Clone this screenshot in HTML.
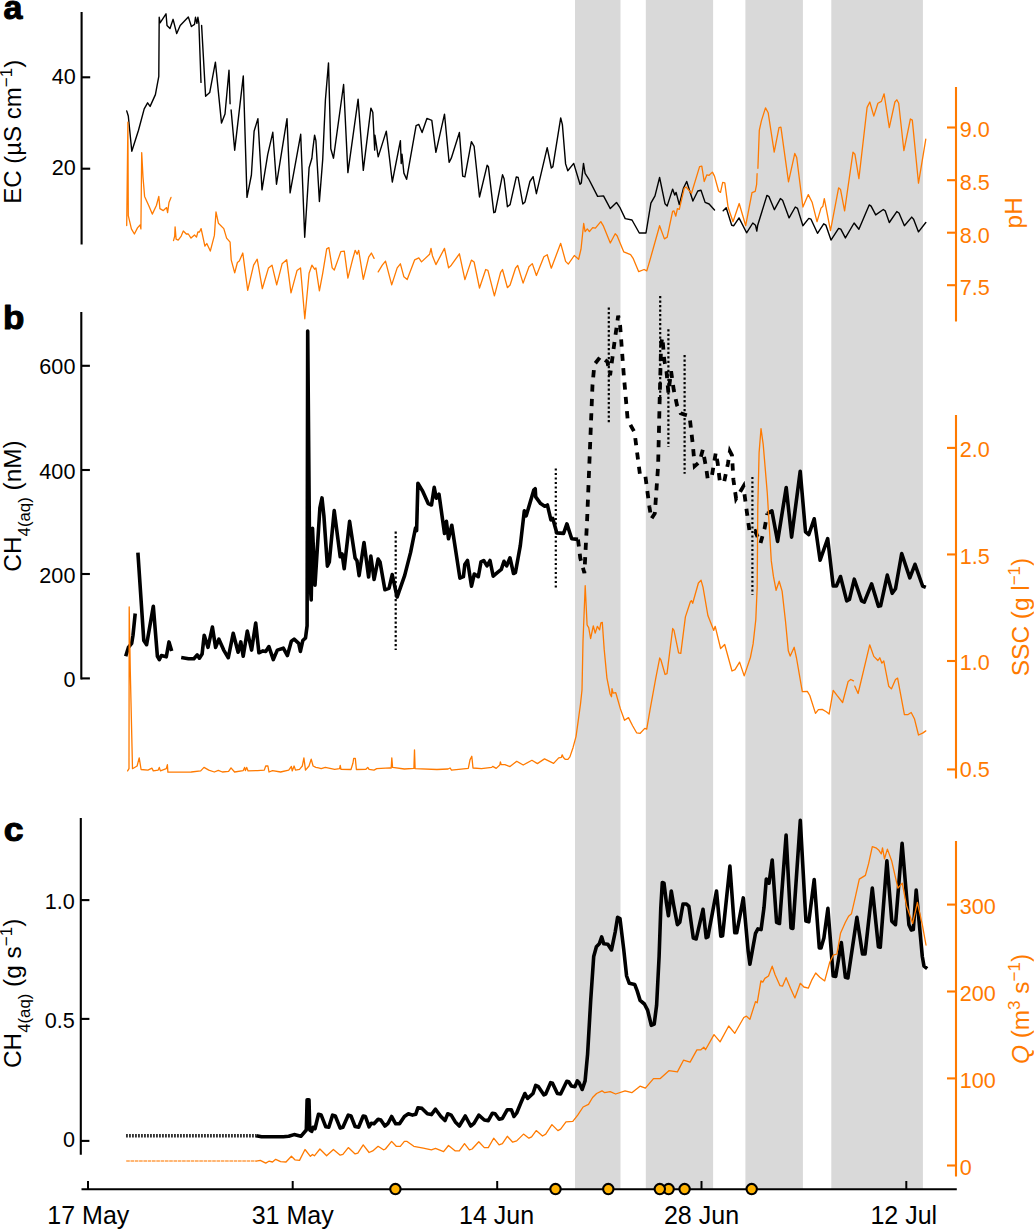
<!DOCTYPE html>
<html><head><meta charset="utf-8"><title>Figure</title>
<style>html,body{margin:0;padding:0;background:#fff;}body{width:1034px;height:1229px;overflow:hidden;}svg{display:block;}text{font-family:"Liberation Sans",sans-serif;}</style>
</head><body>
<svg width="1034" height="1229" viewBox="0 0 1034 1229">
<rect width="1034" height="1229" fill="#fff"/>
<rect x="575" y="0" width="45.5" height="1189" fill="#D9D9D9"/>
<rect x="645.8" y="0" width="67.3" height="1189" fill="#D9D9D9"/>
<rect x="745.4" y="0" width="57.5" height="1189" fill="#D9D9D9"/>
<rect x="831.3" y="0" width="91.6" height="1189" fill="#D9D9D9"/>
<g fill="none" stroke="#000" stroke-width="1.4" stroke-linejoin="round" stroke-linecap="round">
<polyline points="126.7,110.9 128.3,116.0 131.8,151.2 138.5,130.2 144.2,108.9 147.6,102.8 150.1,106.4 155.4,94.6 158.8,76.3 159.2,17.3 160.1,22.8 166.0,13.8 167.0,25.4 170.0,28.5 173.1,19.3 176.7,33.6 180.2,25.4 188.3,16.9 191.4,26.5 194.5,24.4 195.5,17.3 196.9,23.4 197.9,17.3 198.9,23.4 201.0,82.4"/>
<polyline points="201.6,25.4 205.6,96.3 209.7,92.6 215.4,62.1 221.5,123.1 225.0,114.0 229.0,70.2 230.1,103.8"/>
<polyline points="231.1,109.9 234.7,150.2 243.3,75.9 247.0,197.4 251.4,175.0 254.1,131.3 257.9,118.6 262.0,189.9 267.7,154.7 272.8,132.3 276.5,184.2 287.0,118.6 290.1,192.9 300.7,134.3 304.7,237.3 309.1,167.7 311.9,158.2 312.7,150.1 314.6,135.2 315.9,140.6 319.4,201.5 322.7,159.6 325.4,100.0 328.5,62.9 330.8,148.7 333.5,158.2 343.6,84.5 347.9,172.6 358.1,99.1 363.3,170.4 370.9,108.1 372.8,112.2 374.7,150.1 374.9,135.2 378.2,156.9 386.3,131.1 392.3,182.0 400.4,140.6 401.2,163.6 402.0,154.2 403.9,173.1 406.6,179.3 416.1,125.7 418.8,124.4 422.1,132.5 426.9,118.4 431.8,120.3 435.9,152.3 444.5,114.1 449.1,162.3 451.3,158.2 459.4,132.5 462.7,176.1 464.9,176.9 471.4,141.7 474.1,146.3 479.5,197.0 487.1,165.3 488.4,166.7 493.8,212.7 495.2,212.1 502.5,174.8 504.1,178.8 507.4,206.7 510.1,204.6 516.3,176.9 518.2,177.5 522.8,204.0 525.0,201.9 529.9,181.5 533.1,176.7 536.4,193.7 547.2,147.7 551.3,168.0 552.9,166.6 560.7,117.9 562.4,124.7 565.6,163.9 567.8,170.7 573.7,163.4 580.0,184.3 581.3,182.9 583.5,163.4 585.1,173.4 588.6,178.8 597.6,196.4 603.5,195.9 610.3,208.6 616.5,202.4 619.8,207.3 625.2,218.6 632.0,220.0 639.3,233.0 646.0,233.0 650.9,203.2 655.0,195.9 659.6,177.5 665.0,203.7 667.2,205.9 672.6,189.1 674.7,195.1 676.1,192.4 679.3,204.6 683.4,188.3 686.7,181.5 692.9,201.0 697.8,191.0 701.0,190.2 705.1,202.4 709.1,204.0 714.5,210.0"/>
<polyline points="723.2,210.8 726.2,207.8 731.7,225.2 733.8,225.7 739.0,217.9 746.6,232.8 752.8,223.0 755.5,225.2 756.8,231.1 757.7,225.2 766.9,195.4 769.0,196.7 774.4,209.7 780.4,198.6 782.6,200.3 789.1,217.9 795.3,207.0 797.5,208.4 802.9,225.7 808.8,218.4 811.0,219.2 817.5,233.3 823.7,223.8 825.9,225.2 831.0,240.1 838.6,228.4 840.8,229.2 845.4,237.9 854.1,223.0 858.9,229.2 869.2,204.9 871.1,206.2 875.7,214.9 883.3,209.5 885.2,210.8 889.3,222.5 896.8,211.6 899.0,213.0 904.4,225.7 911.7,217.1 913.6,219.2 918.5,231.9 925.8,222.5"/>
</g>
<g fill="none" stroke="#000" stroke-width="3.6" stroke-linejoin="round">
<polyline points="125.7,656.3 128.4,647.4 131.7,643.3 133.0,635.2 135.2,613.5"/>
<polyline points="137.9,552.6 143.8,640.6 146.6,644.7 153.3,606.2 157.4,656.3 159.3,659.6 161.4,655.5 166.3,656.8 169.0,641.9 171.7,650.9"/>
<polyline points="181.2,657.4 188.5,658.7 193.9,658.7 197.2,654.9 199.4,658.2 202.1,654.1 204.2,635.2 208.0,647.4 212.4,627.1 215.6,647.4 218.9,639.2 223.7,650.1 228.3,657.7 233.2,633.3 238.1,652.2 240.8,641.9 243.2,656.3 247.3,631.1 251.6,650.1 255.7,623.0 258.9,652.8 263.0,650.9 265.7,651.4 268.9,646.6 273.3,659.6 277.3,650.1 283.3,648.2 287.4,655.5 291.4,641.1 294.1,639.2 298.7,643.3 300.4,651.4 302.8,640.6 305.5,637.9 307.1,625.7 307.7,331.0 309.8,578.3 311.2,600.0 312.5,528.2 315.0,585.1 319.9,507.9 322.0,497.9 323.9,516.0 327.4,566.1 329.3,562.1 334.2,510.6 340.2,556.7 342.1,553.9 344.2,568.8 349.6,521.4 355.1,558.0 357.0,560.7 359.1,575.6 364.0,542.6 368.6,577.0 370.8,556.1 374.1,579.5 378.1,559.1 380.0,561.9 384.9,589.7 389.0,588.4 392.2,574.6 397.1,597.1 404.7,575.4 410.6,552.4 415.5,528.0 416.6,530.7 417.9,483.3 422.8,491.4 428.2,503.6 431.5,505.0 434.2,487.4 436.3,498.2 439.0,494.2 444.5,533.4 446.4,521.2 448.5,538.8 451.8,525.3 459.9,578.1 463.4,576.7 464.8,564.6 467.5,560.5 471.5,586.2 474.3,574.0 478.3,576.7 481.0,561.9 483.7,560.5 487.0,565.9 490.0,560.5 493.2,576.2 497.3,572.7 501.3,569.4 504.0,561.3 506.7,565.9 510.0,557.8 513.5,573.5 515.4,572.7 520.3,545.6 524.3,510.9 526.2,515.8 533.8,490.1 535.2,488.7 535.7,496.9 540.6,503.6 544.7,506.3 547.4,505.0 550.9,519.9 552.8,518.5 556.8,532.9 563.6,533.4 566.9,523.9 571.7,538.8 578.0,539.4"/>
<polyline points="767.3,513.5 771.9,510.8 777.6,541.5 786.2,487.5 791.6,537.1 800.2,471.2 805.5,531.8 808.8,534.5 814.2,518.8 820.1,560.2 827.7,538.6 833.2,586.0 836.4,586.0 840.5,576.5 846.7,600.9 849.4,599.5 854.3,579.2 861.6,600.9 864.3,602.2 871.6,583.8 878.4,606.3 880.6,605.8 887.3,575.1 892.2,593.3 895.5,588.7 901.7,553.5 909.8,577.9 915.0,564.3 922.6,586.0 925.8,587.3"/>
<polyline points="256.2,1135.7 261.6,1136.8 283.3,1136.8 288.7,1136.3 294.1,1134.6 300.9,1136.3 306.3,1130.0 307.1,1099.7 309.0,1099.7 309.8,1130.0 311.7,1131.4 313.1,1127.3 315.0,1128.7 318.5,1114.3 321.2,1115.1 325.8,1126.8 328.8,1127.3 332.6,1115.1 335.3,1116.0 340.2,1128.1 342.9,1127.3 348.3,1115.1 351.0,1116.0 355.1,1126.5 358.6,1127.3 363.2,1116.0 365.4,1116.5 369.1,1126.8 371.3,1123.3 374.0,1123.8 378.1,1119.2 380.8,1120.0 384.9,1126.0 388.1,1123.3 391.6,1116.5 395.7,1123.8 399.5,1123.8 404.4,1116.5 408.4,1113.8 412.5,1115.1 415.7,1114.3 417.9,1107.8 422.0,1108.4 427.4,1113.8 431.4,1114.6 435.5,1109.2 440.9,1116.5 445.0,1120.6 447.7,1113.8 451.2,1115.1 455.3,1121.9 459.3,1126.0 465.3,1116.0 470.7,1126.0 474.0,1123.3 478.8,1115.1 484.3,1120.0 488.3,1120.6 492.4,1113.2 495.1,1113.8 499.1,1119.2 502.4,1118.4 507.3,1109.7 511.3,1109.7 514.0,1116.5 516.7,1113.0 520.8,1103.0 524.9,1093.5 527.6,1098.4 533.0,1093.5 535.7,1085.4 538.4,1086.7 543.8,1094.8 545.7,1094.0 550.6,1082.6 552.5,1083.2 557.4,1093.5 560.6,1094.0 566.8,1081.3 568.7,1081.8 571.4,1085.9 575.0,1086.7 577.3,1080.9 579.0,1082.5 582.2,1089.5 585.1,1080.9 587.6,1054.1 590.7,1000.4 593.7,956.5 596.4,946.7 599.3,943.8 601.7,936.9 603.7,943.8 607.8,944.2 611.5,949.9 615.2,932.0 617.6,917.4 620.0,918.6 623.7,949.1 626.6,976.0 629.3,983.3 634.7,984.5 637.1,990.6 640.1,1000.4 644.4,1004.0 647.6,1010.1 651.3,1025.3 654.2,1024.1 656.6,1005.3 659.1,956.5 660.8,907.6 662.3,882.5 664.0,883.2 666.4,902.8 668.4,915.7 671.3,891.0 673.7,905.2 677.4,924.7 679.8,922.3 683.0,904.0 686.4,904.0 688.9,906.4 693.3,938.1 696.2,938.9 703.0,909.3 706.2,937.7 707.9,936.9 716.5,891.0 720.8,936.2 722.6,935.7 729.9,866.1 734.8,932.8 736.7,932.8 743.3,897.9 748.2,951.6 749.9,964.3 755.5,933.3 757.9,928.9 761.1,929.6 764.0,907.6 766.3,879.1 769.0,883.2 772.2,860.0 776.6,922.3 779.5,923.5 786.1,835.1 791.0,927.9 792.9,928.4 800.3,820.3 805.9,921.1 808.8,921.8 814.2,879.6 819.3,947.9 821.0,947.9 823.9,938.1 827.9,908.4 833.2,976.0 835.7,976.5 841.3,942.5 845.4,977.2 847.9,977.9 856.9,917.4 862.5,954.0 865.0,954.0 872.3,888.1 878.4,946.7 880.3,947.2 886.9,860.8 891.8,921.1 895.5,924.7 902.1,843.4 908.9,924.7 911.3,930.1 913.3,929.6 916.2,890.1 922.3,956.5 924.0,966.2 927.2,968.7"/>
<polyline points="578.0,539.4 580.3,558.2 584.4,573.1 587.1,520.3 589.8,452.6 592.5,384.8 594.4,364.5 600.6,356.4 607.4,361.8 610.1,375.3 614.2,344.2 618.2,315.7 620.1,325.2 623.7,374.0 627.7,420.0 634.5,432.2 639.9,474.2 645.3,475.6 649.4,506.7 651.3,518.9 654.8,513.5 658.1,466.1 659.7,398.4 661.1,344.2 662.4,337.4 664.3,360.4 666.5,371.3 668.4,392.9 671.1,371.3 673.8,390.2 677.0,405.1 680.6,413.3 684.6,414.6 689.5,416.0 692.8,444.4 694.7,466.1 699.5,462.0 702.8,449.8 706.3,468.8 707.7,478.8 711.7,476.9 715.8,452.6 717.7,463.4 719.8,481.0 723.9,482.9 728.0,463.4 729.9,451.2 732.0,455.3 733.4,479.7 736.1,498.6 740.2,491.8 743.4,486.4 746.9,512.2 749.7,532.5 755.1,531.1 760.5,543.3 764.6,528.4 767.3,513.5" stroke-dasharray="7.2 7.2" stroke-width="3.8" stroke-linejoin="miter"/>
</g>
<line x1="126.2" y1="1135.7" x2="256.2" y2="1135.7" stroke="#000" stroke-width="3.4" stroke-dasharray="1.5 1.5"/>
<g stroke="#000" stroke-width="2.2" stroke-dasharray="2.2 2.3">
<line x1="395.7" y1="531.5" x2="395.7" y2="649.9"/>
<line x1="555.8" y1="468.4" x2="555.8" y2="587.6"/>
<line x1="608.8" y1="307.6" x2="608.8" y2="424.1"/>
<line x1="660.2" y1="296" x2="660.2" y2="400"/>
<line x1="668.4" y1="329.3" x2="668.4" y2="447.1"/>
<line x1="684.6" y1="355" x2="684.6" y2="473.7"/>
<line x1="752.4" y1="476.9" x2="752.4" y2="594.8"/>
</g>
<g fill="none" stroke="#FF7A00" stroke-width="1.3" stroke-linejoin="round" stroke-linecap="round">
<polyline points="126.7,225.5 127.9,122.1 128.3,215.7 131.4,228.9 134.4,234.0 137.5,227.9 140.1,224.9 140.9,228.9 141.7,152.6 143.0,177.0 144.6,196.4 148.7,205.5 152.3,214.1 156.4,205.5 158.8,196.4 159.9,208.6 163.3,210.6 166.6,207.6 167.6,212.7 169.0,202.5 171.0,197.4"/>
<polyline points="173.5,240.7 174.7,236.1 175.1,226.9 176.1,239.1 178.2,240.1 181.2,236.1 183.3,231.0 186.3,234.0 188.3,234.0 191.0,238.1 194.5,235.0 196.5,237.1 197.9,232.0 199.5,232.0 201.1,228.6 204.9,246.2 206.8,243.5 210.3,251.1 214.4,235.4 216.0,211.8 218.4,223.2 223.8,228.6 226.6,238.1 230.1,242.2 231.2,259.8 234.7,272.8 237.4,262.5 239.3,261.1 242.8,253.0 247.7,290.4 253.6,265.2 257.2,259.2 262.3,288.7 268.5,267.9 272.0,265.2 276.7,284.9 282.1,263.8 286.7,259.8 291.0,292.8 297.0,270.6 300.5,267.9 304.8,318.8 309.1,273.3 311.9,265.2 314.6,269.2 315.9,267.9 319.4,290.9 322.7,273.3 326.7,248.9 328.9,247.6 332.2,267.9 334.3,270.0 338.9,257.1 340.8,251.6 344.3,251.1 347.9,278.2 352.5,259.8 355.2,250.3 357.1,254.3 358.7,250.3 363.3,279.3 368.7,257.1 371.4,253.0 374.1,258.4"/>
<polyline points="378.2,271.9 382.3,265.2 385.5,261.1 391.7,284.9 397.2,267.9 400.4,263.8 403.9,276.8 407.2,279.5 414.7,259.8 418.8,257.9 421.5,261.9 429.6,254.3 431.0,248.4 432.4,255.7 435.9,264.6 444.5,248.4 448.6,267.9 451.3,265.2 459.4,253.8 464.9,279.6 471.4,260.1 474.1,262.0 479.5,288.0 485.7,269.5 487.9,270.4 494.4,295.8 500.6,272.3 502.5,269.5 507.4,287.7 510.1,285.0 515.5,268.2 517.7,265.5 523.1,283.1 529.0,266.8 532.3,263.6 536.4,275.5 543.9,256.8 547.2,254.7 551.3,268.2 560.7,243.3 565.6,261.4 568.3,264.1 574.3,255.5 578.6,259.3 581.0,249.2 583.7,223.5 585.1,231.6 587.3,228.9 589.4,231.6 592.7,227.6 595.4,228.1 600.8,221.6 603.5,226.2 610.3,243.0 615.2,233.8 617.1,235.7 623.8,251.9 630.6,254.7 633.3,258.7 638.7,271.7 644.1,269.5 646.8,270.9 649.6,261.4 659.6,225.7 664.4,238.9 667.2,237.1 672.6,211.3 673.9,210.8 675.8,216.2 677.4,208.6 679.3,209.4 684.2,188.3 686.1,187.0 691.5,193.2 699.6,166.6 701.8,166.1 704.2,181.5 706.9,174.8 709.1,175.3 712.4,172.1 714.5,176.1 718.6,191.0 720.5,192.4 722.7,182.4 724.8,182.9 728.1,207.3 733.0,221.7 739.2,203.5 745.7,225.7 752.0,192.7 755.2,191.3 756.6,184.6 757.1,173.7"/>
<polyline points="757.9,168.3 759.3,130.4 761.4,120.9 765.5,107.9 768.2,112.8 774.2,152.1 779.0,127.7 780.9,127.2 788.5,181.9 794.8,153.4 796.7,157.5 802.9,207.0 808.3,194.6 812.1,202.2 817.0,221.7 821.0,208.1 822.9,206.2 824.3,198.6 830.5,230.6 838.6,187.8 840.5,189.4 844.6,210.8 853.0,152.1 854.9,154.2 858.9,178.6 867.1,107.4 869.8,102.0 873.8,116.1 877.9,103.3 881.4,101.4 884.1,93.8 889.3,127.7 894.9,102.0 896.8,99.8 898.7,103.3 903.9,150.7 910.4,119.0 912.3,120.1 918.5,183.2 925.8,139.1"/>
<polyline points="127.6,770.9 129.0,768.7 129.2,606.8 130.3,671.2 132.5,768.7 137.1,766.0 139.2,757.9 141.1,769.5 147.9,770.1 152.0,768.2 153.3,770.9 158.2,770.1 159.3,767.4 160.4,770.9 166.3,768.7 167.4,764.7 167.9,772.2 180.4,772.2 191.2,772.0 200.7,770.9 204.0,767.4 208.8,770.1 214.3,772.0 218.3,770.3 222.4,772.0 228.6,771.4 231.0,767.9 234.6,772.0 243.2,770.6 244.6,767.4 245.4,770.6 246.7,767.4 248.1,770.9 257.6,770.6 264.3,770.1 265.7,766.0 267.9,766.0 269.0,772.0 272.5,770.6 280.6,772.0 288.7,770.1 291.4,766.5 292.2,770.9 294.1,766.0 295.5,770.1 299.5,769.3 302.3,766.0 303.9,757.9 305.5,770.1 309.0,766.0 311.2,759.2 313.1,766.0 315.8,767.4 318.5,767.9 321.2,768.7 325.3,767.4 334.7,769.3 339.6,768.7 340.2,765.5 341.0,769.3 351.0,769.5 352.9,763.3 353.7,758.4 355.3,758.4 356.4,769.5 365.9,769.3 367.8,767.4 369.1,769.3 374.0,770.1 376.7,768.7 390.0,767.9 391.2,768.0 391.8,757.9 392.6,767.4 404.4,769.0 413.9,768.4 414.5,749.8 415.1,768.6 436.9,769.5 448.0,769.0 450.1,768.0 451.5,770.1 468.3,768.4 470.0,759.9 471.8,756.3 473.0,768.0 481.5,768.6 491.7,767.4 492.7,766.4 496.2,768.4 499.8,765.0 500.4,761.9 501.2,764.6 504.9,764.6 510.0,766.6 516.7,761.3 523.2,765.0 531.9,760.3 537.4,763.6 544.5,758.9 553.6,763.4 558.7,757.9 561.4,757.3 562.2,754.8 563.4,757.5 565.2,759.3 567.9,759.3 569.9,756.9 573.0,747.7 576.0,736.6 578.0,722.3 580.5,704.0 582.0,690.0 583.0,641.2 585.2,585.7 587.1,625.0 588.7,627.7 590.6,638.5 593.3,625.8 595.2,633.1 597.4,626.3 599.6,629.9 600.9,622.8 602.3,622.3 604.2,649.4 606.9,677.8 610.1,694.0 611.5,696.7 612.0,688.6 613.1,693.2 615.8,692.7 620.4,708.9 624.5,720.3 628.5,717.6 632.6,725.7 636.6,732.8 640.2,733.3 644.8,728.4 646.7,729.2 650.2,708.9 655.6,679.1 659.7,658.0 661.0,660.2 665.1,674.5 667.0,673.7 672.7,628.5 674.0,630.4 678.6,652.9 680.8,653.4 685.4,616.9 690.3,602.0 691.4,600.6 692.7,603.3 698.4,583.0 701.1,580.3 703.0,587.1 707.9,615.5 713.8,630.4 715.2,626.3 720.6,648.5 724.7,644.5 732.0,671.0 735.0,669.7 739.6,662.1 744.2,675.9 750.4,657.5 753.1,643.9 755.8,619.6 757.2,587.1 757.8,506.7 759.1,452.6 761.0,428.7 763.2,444.4 767.3,493.2 771.3,560.9 773.4,576.2 776.1,590.3 779.2,581.2 782.1,591.1 785.6,622.3 788.3,650.7 790.2,656.1 794.2,647.3 796.5,658.0 802.3,691.6 807.3,691.4 809.8,695.5 815.5,713.4 818.4,709.6 822.2,709.4 826.3,711.8 829.1,714.1 833.2,690.3 837.2,695.7 842.6,702.5 848.1,681.6 850.8,679.5 853.5,680.8"/>
<polyline points="854.8,686.2 858.1,693.5 869.7,644.8 873.8,656.4 877.9,660.5 879.8,657.8 881.9,663.2 883.8,661.0 888.7,686.2 891.4,688.9 895.5,679.5 897.6,678.1 904.4,714.7 907.7,714.7 911.2,712.5 914.4,718.7 918.5,735.0 922.6,733.1 925.8,730.9"/>
<polyline points="256.2,1161.2 260.3,1160.4 265.7,1163.1 268.9,1161.2 272.5,1162.0 275.7,1159.3 280.6,1161.7 286.0,1162.0 291.4,1156.3 294.9,1159.8 299.5,1160.4 305.0,1149.5 310.4,1156.3 312.5,1154.4 314.4,1155.8 319.9,1149.0 326.6,1155.8 333.4,1149.5 340.2,1155.2 342.9,1154.4 348.3,1147.6 355.1,1153.9 357.8,1153.1 363.2,1144.9 369.1,1152.5 372.7,1150.9 378.1,1146.3 383.5,1149.8 385.4,1149.0 391.6,1141.4 396.2,1146.3 400.3,1146.3 404.4,1141.4 407.1,1141.4 413.8,1146.3 423.3,1148.2 431.4,1149.8 435.5,1148.4 443.6,1151.7 448.5,1145.5 455.3,1150.9 459.3,1150.9 464.5,1143.6 469.4,1149.8 472.1,1149.0 478.8,1141.7 484.3,1147.6 488.3,1147.6 493.7,1138.2 499.1,1144.9 502.4,1143.6 507.3,1136.3 512.7,1142.2 516.7,1140.9 523.5,1134.1 528.9,1138.2 531.6,1136.8 536.2,1130.6 542.5,1136.0 545.7,1134.1 551.9,1124.6 557.9,1130.6 560.6,1129.2 566.0,1121.9 572.8,1121.4 577.7,1115.1 583.1,1107.0 588.5,1104.3 592.6,1097.5 596.6,1093.5 602.0,1090.8 604.7,1092.7 610.2,1091.6 615.6,1094.0 625.1,1090.8 631.8,1092.7 640.0,1086.2 645.4,1088.1 653.5,1078.6 660.3,1078.5 668.9,1070.7 677.4,1071.9 683.5,1060.2 690.1,1062.1 696.9,1049.9 700.6,1049.9 703.8,1047.2 705.5,1049.7 714.0,1034.6 720.1,1041.9 728.7,1026.0 734.8,1033.3 743.8,1017.5 746.5,1016.2 749.9,1019.4 755.5,1001.6 757.2,1002.8 760.9,980.9 762.8,982.1 764.9,978.4 768.5,976.0 772.2,966.2 775.1,974.8 780.0,985.7 782.5,986.2 786.1,977.7 790.5,988.2 794.9,997.9 800.3,983.3 803.9,987.0 808.3,988.2 812.0,979.6 815.7,973.0 819.8,977.2 824.7,980.9 829.6,962.6 833.2,955.2 836.9,954.0 840.5,933.3 845.4,922.3 848.6,916.2 851.5,913.7 855.7,895.4 859.3,879.1 865.4,875.4 868.6,863.7 872.3,846.6 875.9,847.8 878.9,850.3 881.3,853.9 882.5,847.8 884.5,858.8 887.4,849.1 891.8,861.3 897.9,888.1 902.3,883.2 906.4,905.2 912.6,923.5 917.4,902.3 922.3,924.7 926.0,945.0"/>
</g>
<line x1="126.2" y1="1161.0" x2="256.2" y2="1161.0" stroke="#FF7A00" stroke-width="1.5" stroke-dasharray="3.6 0.7" opacity="0.72"/>
<g stroke="#000" stroke-width="2.1" fill="none">
<line x1="81.6" y1="12" x2="81.6" y2="244.5"/>
<line x1="81.6" y1="77.3" x2="90.19999999999999" y2="77.3"/>
<line x1="81.6" y1="168.7" x2="90.19999999999999" y2="168.7"/>
</g>
<text x="75.69999999999999" y="83.7" font-size="21.6" text-anchor="end" fill="#000">40</text>
<text x="75.69999999999999" y="175.1" font-size="21.6" text-anchor="end" fill="#000">20</text>
<g stroke="#FF7A00" stroke-width="2.1" fill="none">
<line x1="956" y1="87" x2="956" y2="321.5"/>
<line x1="947" y1="127.5" x2="956" y2="127.5"/>
<line x1="947" y1="180.2" x2="956" y2="180.2"/>
<line x1="947" y1="232.7" x2="956" y2="232.7"/>
<line x1="947" y1="285.2" x2="956" y2="285.2"/>
</g>
<text x="959.7" y="137.3" font-size="21.6" text-anchor="start" fill="#FF7A00">9.0</text>
<text x="959.7" y="190.0" font-size="21.6" text-anchor="start" fill="#FF7A00">8.5</text>
<text x="959.7" y="242.5" font-size="21.6" text-anchor="start" fill="#FF7A00">8.0</text>
<text x="959.7" y="295.0" font-size="21.6" text-anchor="start" fill="#FF7A00">7.5</text>
<g stroke="#000" stroke-width="2.1" fill="none">
<line x1="81.3" y1="312" x2="81.3" y2="679.5"/>
<line x1="81.3" y1="365.8" x2="89.89999999999999" y2="365.8"/>
<line x1="81.3" y1="470.0" x2="89.89999999999999" y2="470.0"/>
<line x1="81.3" y1="574" x2="89.89999999999999" y2="574"/>
<line x1="81.3" y1="678.4" x2="89.89999999999999" y2="678.4"/>
</g>
<text x="75.39999999999999" y="374.3" font-size="21.6" text-anchor="end" fill="#000">600</text>
<text x="75.39999999999999" y="478.5" font-size="21.6" text-anchor="end" fill="#000">400</text>
<text x="75.39999999999999" y="582.5" font-size="21.6" text-anchor="end" fill="#000">200</text>
<text x="75.39999999999999" y="686.9" font-size="21.6" text-anchor="end" fill="#000">0</text>
<g stroke="#FF7A00" stroke-width="2.1" fill="none">
<line x1="956" y1="415" x2="956" y2="778.5"/>
<line x1="947" y1="447.9" x2="956" y2="447.9"/>
<line x1="947" y1="554.45" x2="956" y2="554.45"/>
<line x1="947" y1="661.0" x2="956" y2="661.0"/>
<line x1="947" y1="769.45" x2="956" y2="769.45"/>
</g>
<text x="959.7" y="457.4" font-size="21.6" text-anchor="start" fill="#FF7A00">2.0</text>
<text x="959.7" y="563.9" font-size="21.6" text-anchor="start" fill="#FF7A00">1.5</text>
<text x="959.7" y="670.3" font-size="21.6" text-anchor="start" fill="#FF7A00">1.0</text>
<text x="959.7" y="777.0" font-size="21.6" text-anchor="start" fill="#FF7A00">0.5</text>
<g stroke="#000" stroke-width="2.1" fill="none">
<line x1="80.8" y1="818" x2="80.8" y2="1154.8"/>
<line x1="80.8" y1="900.1" x2="89.39999999999999" y2="900.1"/>
<line x1="80.8" y1="1018.9" x2="89.39999999999999" y2="1018.9"/>
<line x1="80.8" y1="1140.9" x2="89.39999999999999" y2="1140.9"/>
</g>
<text x="74.89999999999999" y="908.7" font-size="21.6" text-anchor="end" fill="#000">1.0</text>
<text x="74.89999999999999" y="1027.7" font-size="21.6" text-anchor="end" fill="#000">0.5</text>
<text x="74.89999999999999" y="1146.8" font-size="21.6" text-anchor="end" fill="#000">0</text>
<g stroke="#FF7A00" stroke-width="2.1" fill="none">
<line x1="956" y1="841" x2="956" y2="1176.6"/>
<line x1="947" y1="904.6" x2="956" y2="904.6"/>
<line x1="947" y1="991.5" x2="956" y2="991.5"/>
<line x1="947" y1="1078.4" x2="956" y2="1078.4"/>
<line x1="947" y1="1165.5" x2="956" y2="1165.5"/>
</g>
<text x="959.7" y="913.9" font-size="21.6" text-anchor="start" fill="#FF7A00">300</text>
<text x="959.7" y="1000.8" font-size="21.6" text-anchor="start" fill="#FF7A00">200</text>
<text x="959.7" y="1087.7" font-size="21.6" text-anchor="start" fill="#FF7A00">100</text>
<text x="959.7" y="1174.8" font-size="21.6" text-anchor="start" fill="#FF7A00">0</text>
<g stroke="#000" stroke-width="2" fill="none">
<line x1="81.5" y1="1189.2" x2="956.8" y2="1189.2"/>
<line x1="88" y1="1181" x2="88" y2="1189"/>
<line x1="292.7" y1="1181" x2="292.7" y2="1189"/>
<line x1="497.2" y1="1181" x2="497.2" y2="1189"/>
<line x1="701.5" y1="1181" x2="701.5" y2="1189"/>
<line x1="906.3" y1="1181" x2="906.3" y2="1189"/>
</g>
<text x="88.3" y="1223.6" font-size="25" text-anchor="middle" fill="#000">17 May</text>
<text x="292.7" y="1223.6" font-size="25" text-anchor="middle" fill="#000">31 May</text>
<text x="496.59999999999997" y="1223.6" font-size="25" text-anchor="middle" fill="#000">14 Jun</text>
<text x="701.5" y="1223.6" font-size="25" text-anchor="middle" fill="#000">28 Jun</text>
<text x="903.8" y="1223.6" font-size="25" text-anchor="middle" fill="#000">12 Jul</text>
<circle cx="751.7" cy="1189.1" r="5.2" fill="#FFB200" stroke="#000" stroke-width="2.1"/>
<circle cx="684.6" cy="1189.1" r="5.2" fill="#FFB200" stroke="#000" stroke-width="2.1"/>
<circle cx="668.6" cy="1189.1" r="5.2" fill="#FFB200" stroke="#000" stroke-width="2.1"/>
<circle cx="659.8" cy="1189.1" r="5.2" fill="#FFB200" stroke="#000" stroke-width="2.1"/>
<circle cx="608.3" cy="1189.1" r="5.2" fill="#FFB200" stroke="#000" stroke-width="2.1"/>
<circle cx="555.5" cy="1189.1" r="5.2" fill="#FFB200" stroke="#000" stroke-width="2.1"/>
<circle cx="395.4" cy="1189.1" r="5.2" fill="#FFB200" stroke="#000" stroke-width="2.1"/>
<text x="3.6" y="19.0" font-size="32.5" font-weight="bold" fill="#000" stroke="#000" stroke-width="1.0" stroke-linejoin="round" textLength="18.9" lengthAdjust="spacingAndGlyphs">a</text>
<text x="3.1" y="329.4" font-size="32.5" font-weight="bold" fill="#000" stroke="#000" stroke-width="1.0" stroke-linejoin="round" textLength="21.4" lengthAdjust="spacingAndGlyphs">b</text>
<text x="3.8" y="840.5" font-size="32.5" font-weight="bold" fill="#000" stroke="#000" stroke-width="1.0" stroke-linejoin="round" textLength="19.8" lengthAdjust="spacingAndGlyphs">c</text>
<text transform="translate(20.6,131.8) rotate(-90)" font-size="24.0" text-anchor="middle" fill="#000">EC (µS cm<tspan font-size="17" dy="-9">−1</tspan><tspan dy="9">)</tspan></text>
<text transform="translate(20.6,506) rotate(-90)" font-size="24.4" text-anchor="middle" fill="#000">CH<tspan font-size="16.8" dy="9.3">4(aq)</tspan><tspan dy="-9.3"> (nM)</tspan></text>
<text transform="translate(20.6,993.4) rotate(-90)" font-size="24.4" text-anchor="middle" fill="#000">CH<tspan font-size="16.8" dy="9.3">4(aq)</tspan><tspan dy="-9.3"> (g s</tspan><tspan font-size="17" dy="-9">−1</tspan><tspan dy="9">)</tspan></text>
<text transform="translate(1022,212.8) rotate(-90)" font-size="24.4" text-anchor="middle" fill="#FF7A00">pH</text>
<text transform="translate(1029,617) rotate(-90)" font-size="24.4" text-anchor="middle" fill="#FF7A00">SSC (g l<tspan font-size="17" dy="-9">−1</tspan><tspan dy="9">)</tspan></text>
<text transform="translate(1029,1009) rotate(-90)" font-size="24.4" text-anchor="middle" fill="#FF7A00"><tspan font-style="italic">Q</tspan> (m<tspan font-size="17" dy="-9">3</tspan><tspan dy="9"> s</tspan><tspan font-size="17" dy="-9">−1</tspan><tspan dy="9">)</tspan></text>
</svg>
</body></html>
